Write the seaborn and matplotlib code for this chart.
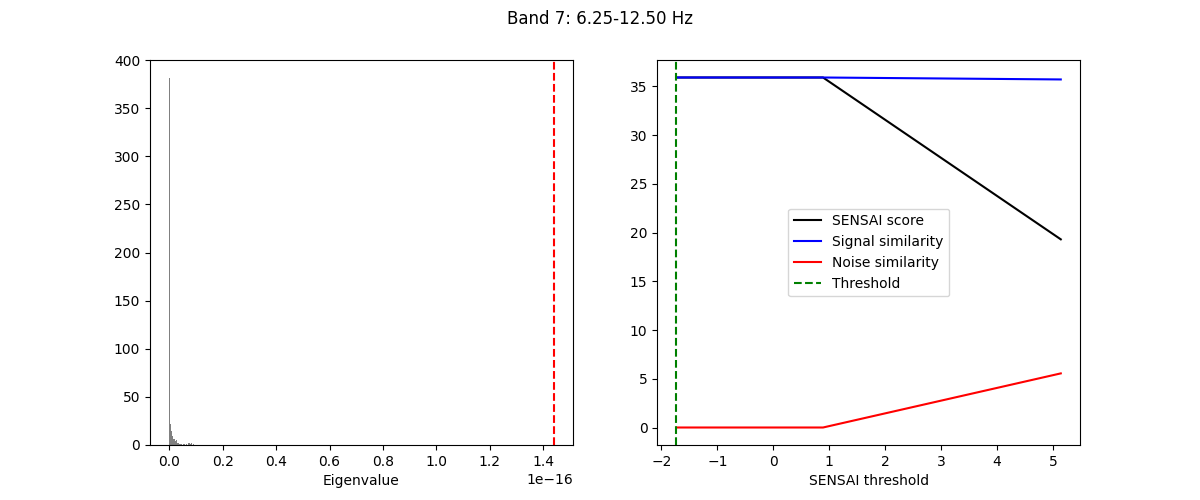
import matplotlib
matplotlib.use("Agg")
import matplotlib.pyplot as plt
import numpy as np
import pandas as pd
import seaborn as sns

# eigenvalue histogram (bins of 0.004e-16 starting at 0)
bin_width = 0.004e-16
eig_counts = [381, 22, 15, 9, 6, 4, 5, 2, 2, 1, 1, 1, 0, 1, 1, 0, 1, 0, 2, 1, 2, 0, 1]
eig_threshold = 1.438e-16

# SENSAI sweep
thresholds = [-1.73, 0.89, 5.14]
sensai_score = [35.9, 35.9, 19.3]
signal_sim = [35.9, 35.9, 35.7]
noise_sim = [0.0, 0.0, 5.55]
chosen_threshold = -1.73

bin_centers = np.arange(len(eig_counts)) * bin_width + bin_width / 2
hist_df = pd.DataFrame({'eig': bin_centers, 'count': eig_counts})

lines_df = pd.DataFrame({
    'threshold': thresholds * 3,
    'value': sensai_score + signal_sim + noise_sim,
    'curve': ['SENSAI score'] * 3 + ['Signal similarity'] * 3 + ['Noise similarity'] * 3,
})

fig, (ax1, ax2) = plt.subplots(1, 2, figsize=(12, 5), dpi=100)

sns.histplot(data=hist_df, x='eig', weights='count', binwidth=bin_width,
             binrange=(0, bin_width * len(eig_counts)), color='gray',
             alpha=1, edgecolor='none', linewidth=0, ax=ax1)
ax1.axvline(eig_threshold, color='red', linestyle='--')
ax1.set_xlabel('Eigenvalue')
ax1.set_ylabel('')

sns.lineplot(data=lines_df, x='threshold', y='value', hue='curve',
             palette={'SENSAI score': 'black', 'Signal similarity': 'blue',
                      'Noise similarity': 'red'}, ax=ax2)
ax2.axvline(chosen_threshold, color='green', linestyle='--', label='Threshold')
ax2.set_xlabel('SENSAI threshold')
ax2.set_ylabel('')
ax2.legend(loc='center')

fig.suptitle('Band 7: 6.25-12.50 Hz')
fig.savefig('out.png')
